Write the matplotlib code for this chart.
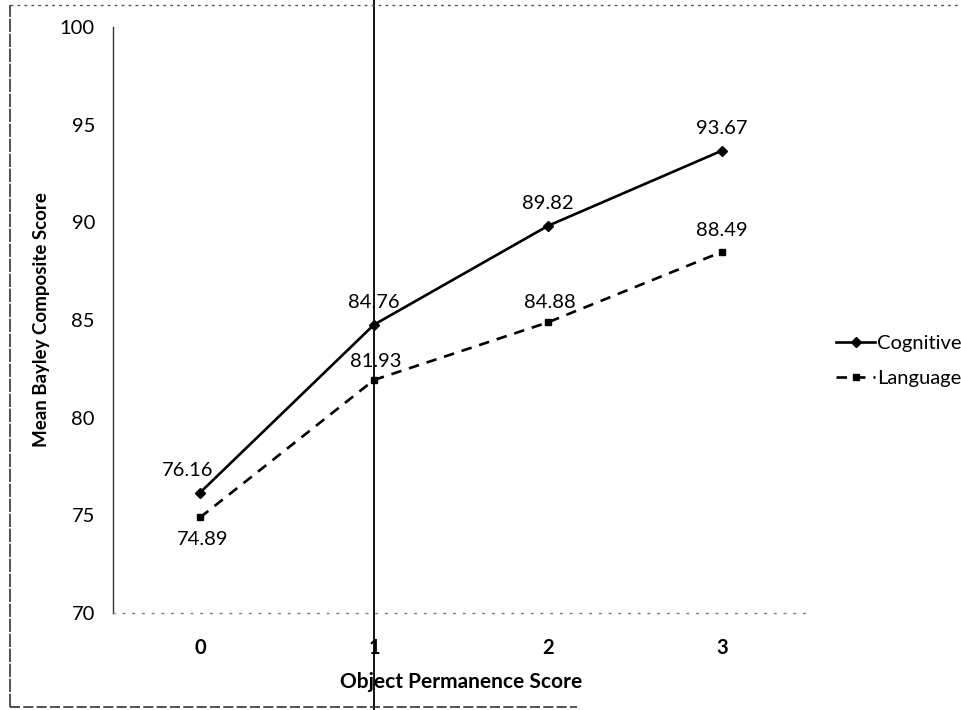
import matplotlib
matplotlib.use("Agg")
import matplotlib.pyplot as plt
from matplotlib.lines import Line2D
from matplotlib.transforms import blended_transform_factory

plt.rcParams["font.family"] = ["Lato", "DejaVu Sans"]

scores = [0, 1, 2, 3]
cognitive = [76.16, 84.76, 89.82, 93.67]
language = [74.89, 81.93, 84.88, 88.49]
yticks = [70, 75, 80, 85, 90, 95, 100]

fig = plt.figure(figsize=(9.61, 7.10), dpi=100)
ax = fig.add_axes([0.1176, 0.1366, 0.7242, 0.8254])

ax.plot(scores, cognitive, "-", color="black", lw=1.9, marker="D", ms=5, label="Cognitive")
ax.plot(scores, language, color="black", lw=1.9, ls=(0, (4, 3)), marker="s", ms=5, label="Language")

# data labels (offsets in points)
cog_off = [(-9, 16), (0, 16), (0, 16), (0, 16)]
lan_off = [(2, -16), (1, 13), (1, 14), (0, 15)]
for x, v, o in zip(scores, cognitive, cog_off):
    ax.annotate(f"{v:.2f}", (x, v), xytext=o, textcoords="offset points",
                ha="center", va="center", fontsize=14.5)
for x, v, o in zip(scores, language, lan_off):
    ax.annotate(f"{v:.2f}", (x, v), xytext=o, textcoords="offset points",
                ha="center", va="center", fontsize=14.5)

ax.set_xlim(-0.5, 3.5)
ax.set_ylim(70, 100)
ax.set_xticks(scores)
ax.set_xticklabels([str(s) for s in scores], fontweight="bold")
ax.set_yticks(yticks)
ax.tick_params(axis="x", length=0, pad=18, labelsize=14.5)
ax.tick_params(axis="y", length=0, pad=13, labelsize=14.5)
ax.set_xlabel("Object Permanence Score", fontsize=15, fontweight="bold", labelpad=10)
ax.set_ylabel("Mean Bayley Composite Score", fontsize=13.5, fontweight="bold", labelpad=7)

for s in ["top", "right"]:
    ax.spines[s].set_visible(False)
ax.spines["left"].set_linestyle((0, (3, 1)))
ax.spines["left"].set_color("#333333")
ax.spines["left"].set_linewidth(1.0)
ax.spines["bottom"].set_linestyle((0, (1, 6)))
ax.spines["bottom"].set_color("#777777")
ax.spines["bottom"].set_linewidth(1.0)

ax.legend(loc="center left", bbox_to_anchor=(1.025, 0.43), frameon=False,
          fontsize=14.5, handlelength=1.9, handletextpad=0.1, labelspacing=0.9,
          borderpad=0)

# vertical rule through category 1 spanning the whole page
tr = blended_transform_factory(ax.transData, fig.transFigure)
fig.add_artist(Line2D([1, 1], [0, 1], transform=tr, color="black", lw=1.3))

# scanned page border
fig.add_artist(Line2D([0.0105, 1.0], [0.993, 0.993], color="#555555", lw=1, ls=(0, (2, 3))))
fig.add_artist(Line2D([0.0105, 0.0105], [0.004, 0.993], color="#333333", lw=1.2, ls=(0, (8, 1))))
fig.add_artist(Line2D([0.0105, 0.60], [0.004, 0.004], color="#333333", lw=1.2, ls=(0, (6, 2))))

fig.savefig("out.png", dpi=100)
